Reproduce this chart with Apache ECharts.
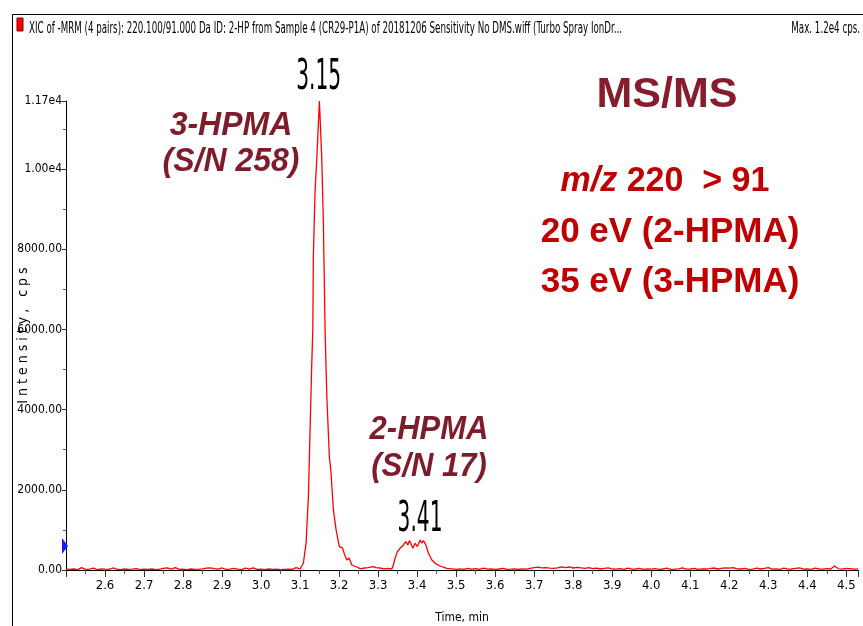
<!DOCTYPE html>
<html>
<head>
<meta charset="utf-8">
<script src="https://cdn.jsdelivr.net/npm/echarts@6/dist/echarts.min.js"></script>
<style>
html,body{margin:0;padding:0;background:#fff;}
#chart{width:863px;height:626px;}
</style>
</head>
<body>
<div id="chart"></div>
<script>
// ---- data ----
const timeMin = [
  2.50,2.51,2.52,2.53,2.54,2.55,2.56,2.57,2.58,2.59,
  2.60,2.61,2.62,2.63,2.64,2.65,2.66,2.67,2.68,2.69,
  2.70,2.71,2.72,2.73,2.74,2.75,2.76,2.77,2.78,2.79,
  2.80,2.81,2.82,2.83,2.84,2.85,2.86,2.87,2.88,2.89,
  2.90,2.91,2.92,2.93,2.94,2.95,2.96,2.97,2.98,2.99,
  3.00,3.01,3.02,3.03,3.04,3.05,3.06,3.07,3.08,3.09,3.095,
  3.100,3.1085,3.1154,3.1213,3.1256,3.1300,3.1326,3.1340,3.1385,3.1428,
  3.1495,3.1556,3.1597,3.1640,3.1685,3.1750,3.1787,3.1854,3.1923,3.2008,
  3.2085,3.2136,3.2197,3.2256,3.2326,3.2454,3.255,3.265,3.275,3.288,
  3.295,3.305,3.315,3.325,3.335,3.339,3.3436,3.3495,3.3564,3.3649,
  3.3710,3.3762,3.3803,3.3846,3.3890,3.3949,3.4008,3.4077,3.4120,3.4162,
  3.4223,3.4290,3.4377,3.4462,3.4590,3.4762,3.5018,
  3.51,3.52,3.53,3.54,3.55,3.56,3.57,3.58,3.59,
  3.60,3.61,3.62,3.63,3.64,3.65,3.66,3.67,3.68,3.69,
  3.70,3.71,3.72,3.73,3.74,3.75,3.76,3.77,3.78,3.79,
  3.80,3.81,3.82,3.83,3.84,3.85,3.86,3.87,3.88,3.89,
  3.90,3.91,3.92,3.93,3.94,3.95,3.96,3.97,3.98,3.99,
  4.00,4.01,4.02,4.03,4.04,4.05,4.06,4.07,4.08,4.09,
  4.10,4.11,4.12,4.13,4.14,4.15,4.16,4.17,4.18,4.19,
  4.20,4.21,4.22,4.23,4.24,4.25,4.26,4.27,4.28,4.29,
  4.30,4.31,4.32,4.33,4.34,4.35,4.36,4.37,4.38,4.39,
  4.40,4.41,4.42,4.43,4.44,4.45,4.46,4.47,4.48,4.49,
  4.50,4.51,4.52,4.53
];
const intensityCps = [
  20,15,25,10,60,15,20,45,10,30,
  20,15,50,20,10,25,15,20,35,10,
  20,15,25,10,20,40,55,20,60,15,
  20,10,25,15,20,30,45,55,35,20,
  50,15,20,40,20,10,45,20,55,15,
  20,10,25,15,20,10,15,20,15,60,20,
  25,175,675,1825,3500,5175,6000,7825,9500,10250,
  11700,10250,8675,6000,4325,2825,2500,1500,1000,575,
  550,400,250,300,125,75,30,50,60,83,
  60,50,30,40,25,125,300,458,542,625,
  708,625,733,650,542,667,583,750,667,733,
  625,417,250,167,100,42,17,
  30,15,40,20,35,15,45,20,30,
  15,25,40,15,20,30,15,25,20,40,
  60,70,55,60,45,40,55,80,60,75,
  50,65,55,40,60,35,45,25,40,55,
  25,20,35,15,45,20,25,40,15,30,
  20,35,15,25,45,15,20,30,55,20,
  25,40,15,30,25,35,50,25,40,55,
  45,60,30,25,40,15,20,45,25,40,
  60,20,30,15,45,20,25,40,55,20,
  30,15,45,25,20,35,25,100,30,20,
  40,35,20,30
];
const xTickLabels = ['2.6','2.7','2.8','2.9','3.0','3.1','3.2','3.3','3.4','3.5','3.6','3.7','3.8','3.9','4.0','4.1','4.2','4.3','4.4','4.5'];
const peakTimes = [3.15, 3.41];
const peakHeights = [11700, 750];

const NARROW = "'Liberation Sans Narrow','DejaVu Sans Condensed','Arial Narrow',sans-serif";
const BOLD = "'Liberation Sans',Arial,sans-serif";

const seriesData = timeMin.map((t, i) => [t, intensityCps[i]]);

const chart = echarts.init(document.getElementById('chart'), null, {renderer: 'canvas'});

function textEl(id, x, y, text, opt) {
  opt = opt || {};
  return {
    type: 'text', id: id, x: x, y: y,
    scaleX: opt.scaleX || 1, scaleY: opt.scaleY || 1,
    z: 100,
    style: {
      text: text, x: 0, y: 0,
      fill: opt.fill || '#000',
      font: opt.font,
      align: opt.align || 'left', textAlign: opt.align || 'left',
      verticalAlign: opt.va || 'middle', textVerticalAlign: opt.va || 'middle'
    }
  };
}

const option = {
  backgroundColor: '#ffffff',
  animation: false,
  grid: {left: 66, right: 5, top: 101, bottom: 56, containLabel: false, outerBoundsMode: 'none'},
  xAxis: {
    type: 'value', min: 2.5, max: 4.53, interval: 0.1,
    name: 'Time, min', nameLocation: 'middle', nameGap: 42, nameMoveOverlap: false,
    nameTextStyle: {fontFamily: NARROW, fontSize: 12, color: '#000'},
    axisLine: {show: true, onZero: false, lineStyle: {color: '#000', width: 1}},
    axisTick: {show: true, inside: false, length: 7, lineStyle: {color: '#333'}},
    minorTick: {show: true, splitNumber: 2, length: 4, lineStyle: {color: '#555'}},
    splitLine: {show: false},
    axisLabel: {
      showMinLabel: false, showMaxLabel: false, margin: 9,
      fontFamily: NARROW, fontSize: 13, color: '#000',
      formatter: function (v) {
        const s = v.toFixed(1);
        return xTickLabels.indexOf(s) >= 0 ? s : '';
      }
    }
  },
  yAxis: {
    type: 'value', min: 0, max: 11700, interval: 2000,
    name: 'I n t e n s i t y ,   c p s', nameLocation: 'middle', nameGap: 36, nameRotate: 90,
    nameMoveOverlap: false,
    nameTextStyle: {fontFamily: NARROW, fontSize: 14, color: '#000'},
    axisLine: {show: true, lineStyle: {color: '#000', width: 1}},
    axisTick: {show: true, inside: false, length: 4, lineStyle: {color: '#333'}},
    minorTick: {show: true, splitNumber: 2, length: 3, lineStyle: {color: '#555'}},
    splitLine: {show: false},
    axisLabel: {
      showMaxLabel: true, margin: 4,
      fontFamily: NARROW, fontSize: 12, color: '#000',
      formatter: function (v) {
        return v >= 10000 ? (v / 10000).toFixed(2) + 'e4' : v.toFixed(2);
      }
    }
  },
  series: [{
    type: 'line', data: seriesData, showSymbol: false, symbol: 'none',
    lineStyle: {color: '#ff0000', width: 1.3}, z: 5
  }],
  graphic: []
};

chart.setOption(option);

// peak labels placed through the axes' own scales
const p1 = chart.convertToPixel({gridIndex: 0}, [peakTimes[0], peakHeights[0]]);
const p2 = chart.convertToPixel({gridIndex: 0}, [peakTimes[1], peakHeights[1]]);
const pts = chart.convertToPixel({gridIndex: 0}, [2.5, 600]);

const graphics = [
  // frame
  {type: 'line', z: 50, shape: {x1: 12.5, y1: 14.5, x2: 863, y2: 14.5}, style: {stroke: '#000', lineWidth: 1}},
  {type: 'line', z: 50, shape: {x1: 12.5, y1: 14.5, x2: 12.5, y2: 626}, style: {stroke: '#000', lineWidth: 1}},
  // red marker square
  {type: 'rect', z: 50, shape: {x: 17, y: 18, width: 6, height: 13}, style: {fill: '#ff0000', stroke: '#800000', lineWidth: 1}},
  textEl('title', 29, 29, 'XIC of -MRM (4 pairs): 220.100/91.000 Da ID: 2-HP from Sample 4 (CR29-P1A) of 20181206 Sensitivity No DMS.wiff (Turbo Spray IonDr...',
    {font: '11px ' + NARROW, scaleX: 0.88, scaleY: 1.45}),
  textEl('maxcps', 860, 29, 'Max. 1.2e4 cps.', {font: '11px ' + NARROW, scaleX: 0.88, scaleY: 1.45, align: 'right'}),
  // blue pointer
  {type: 'polygon', z: 50, shape: {points: [[pts[0] - 4, pts[1] - 8], [pts[0] + 2, pts[1]], [pts[0] - 4, pts[1] + 8]]}, style: {fill: '#1a1aff'}},
  // peak retention times
  textEl('pk1', p1[0] - 1, p1[1] - 2, String(peakTimes[0].toFixed(2)), {font: '27px ' + NARROW, scaleX: 0.83, scaleY: 1.6, align: 'center', va: 'bottom'}),
  textEl('pk2', p2[0] - 1, p2[1] + 1, String(peakTimes[1].toFixed(2)), {font: '27px ' + NARROW, scaleX: 0.83, scaleY: 1.6, align: 'center', va: 'bottom'}),
  // compound annotations
  textEl('a1', 231, 126, '3-HPMA', {font: 'italic bold 32px ' + BOLD, fill: '#7f1c2b', align: 'center', scaleY: 1.05}),
  textEl('a2', 231, 162, '(S/N 258)', {font: 'italic bold 32px ' + BOLD, fill: '#7f1c2b', align: 'center', scaleY: 1.05}),
  textEl('a3', 429, 430, '2-HPMA', {font: 'italic bold 31px ' + BOLD, fill: '#7f1c2b', align: 'center', scaleY: 1.05}),
  textEl('a4', 429, 467, '(S/N 17)', {font: 'italic bold 31px ' + BOLD, fill: '#7f1c2b', align: 'center', scaleY: 1.05}),
  textEl('ms', 667, 95, 'MS/MS', {font: 'bold 43px ' + BOLD, fill: '#861c2c', align: 'center', scaleY: 1.0}),
  {
    type: 'text', z: 100, x: 665, y: 181, scaleY: 1.05,
    style: {
      text: '{i|m/z} 220  > 91', x: 0, y: 0,
      align: 'center', textAlign: 'center', verticalAlign: 'middle', textVerticalAlign: 'middle',
      font: 'bold 34px ' + BOLD, fill: '#c00000',
      rich: {i: {fontStyle: 'italic', fontWeight: 'bold', fontSize: 34, fontFamily: BOLD, fill: '#c00000', color: '#c00000'}}
    }
  },
  textEl('ev1', 670, 232, '20 eV (2-HPMA)', {font: 'bold 35px ' + BOLD, fill: '#c00000', align: 'center', scaleY: 1.0}),
  textEl('ev2', 670, 282, '35 eV (3-HPMA)', {font: 'bold 35px ' + BOLD, fill: '#c00000', align: 'center', scaleY: 1.0})
];

chart.setOption({graphic: graphics});
</script>
</body>
</html>
